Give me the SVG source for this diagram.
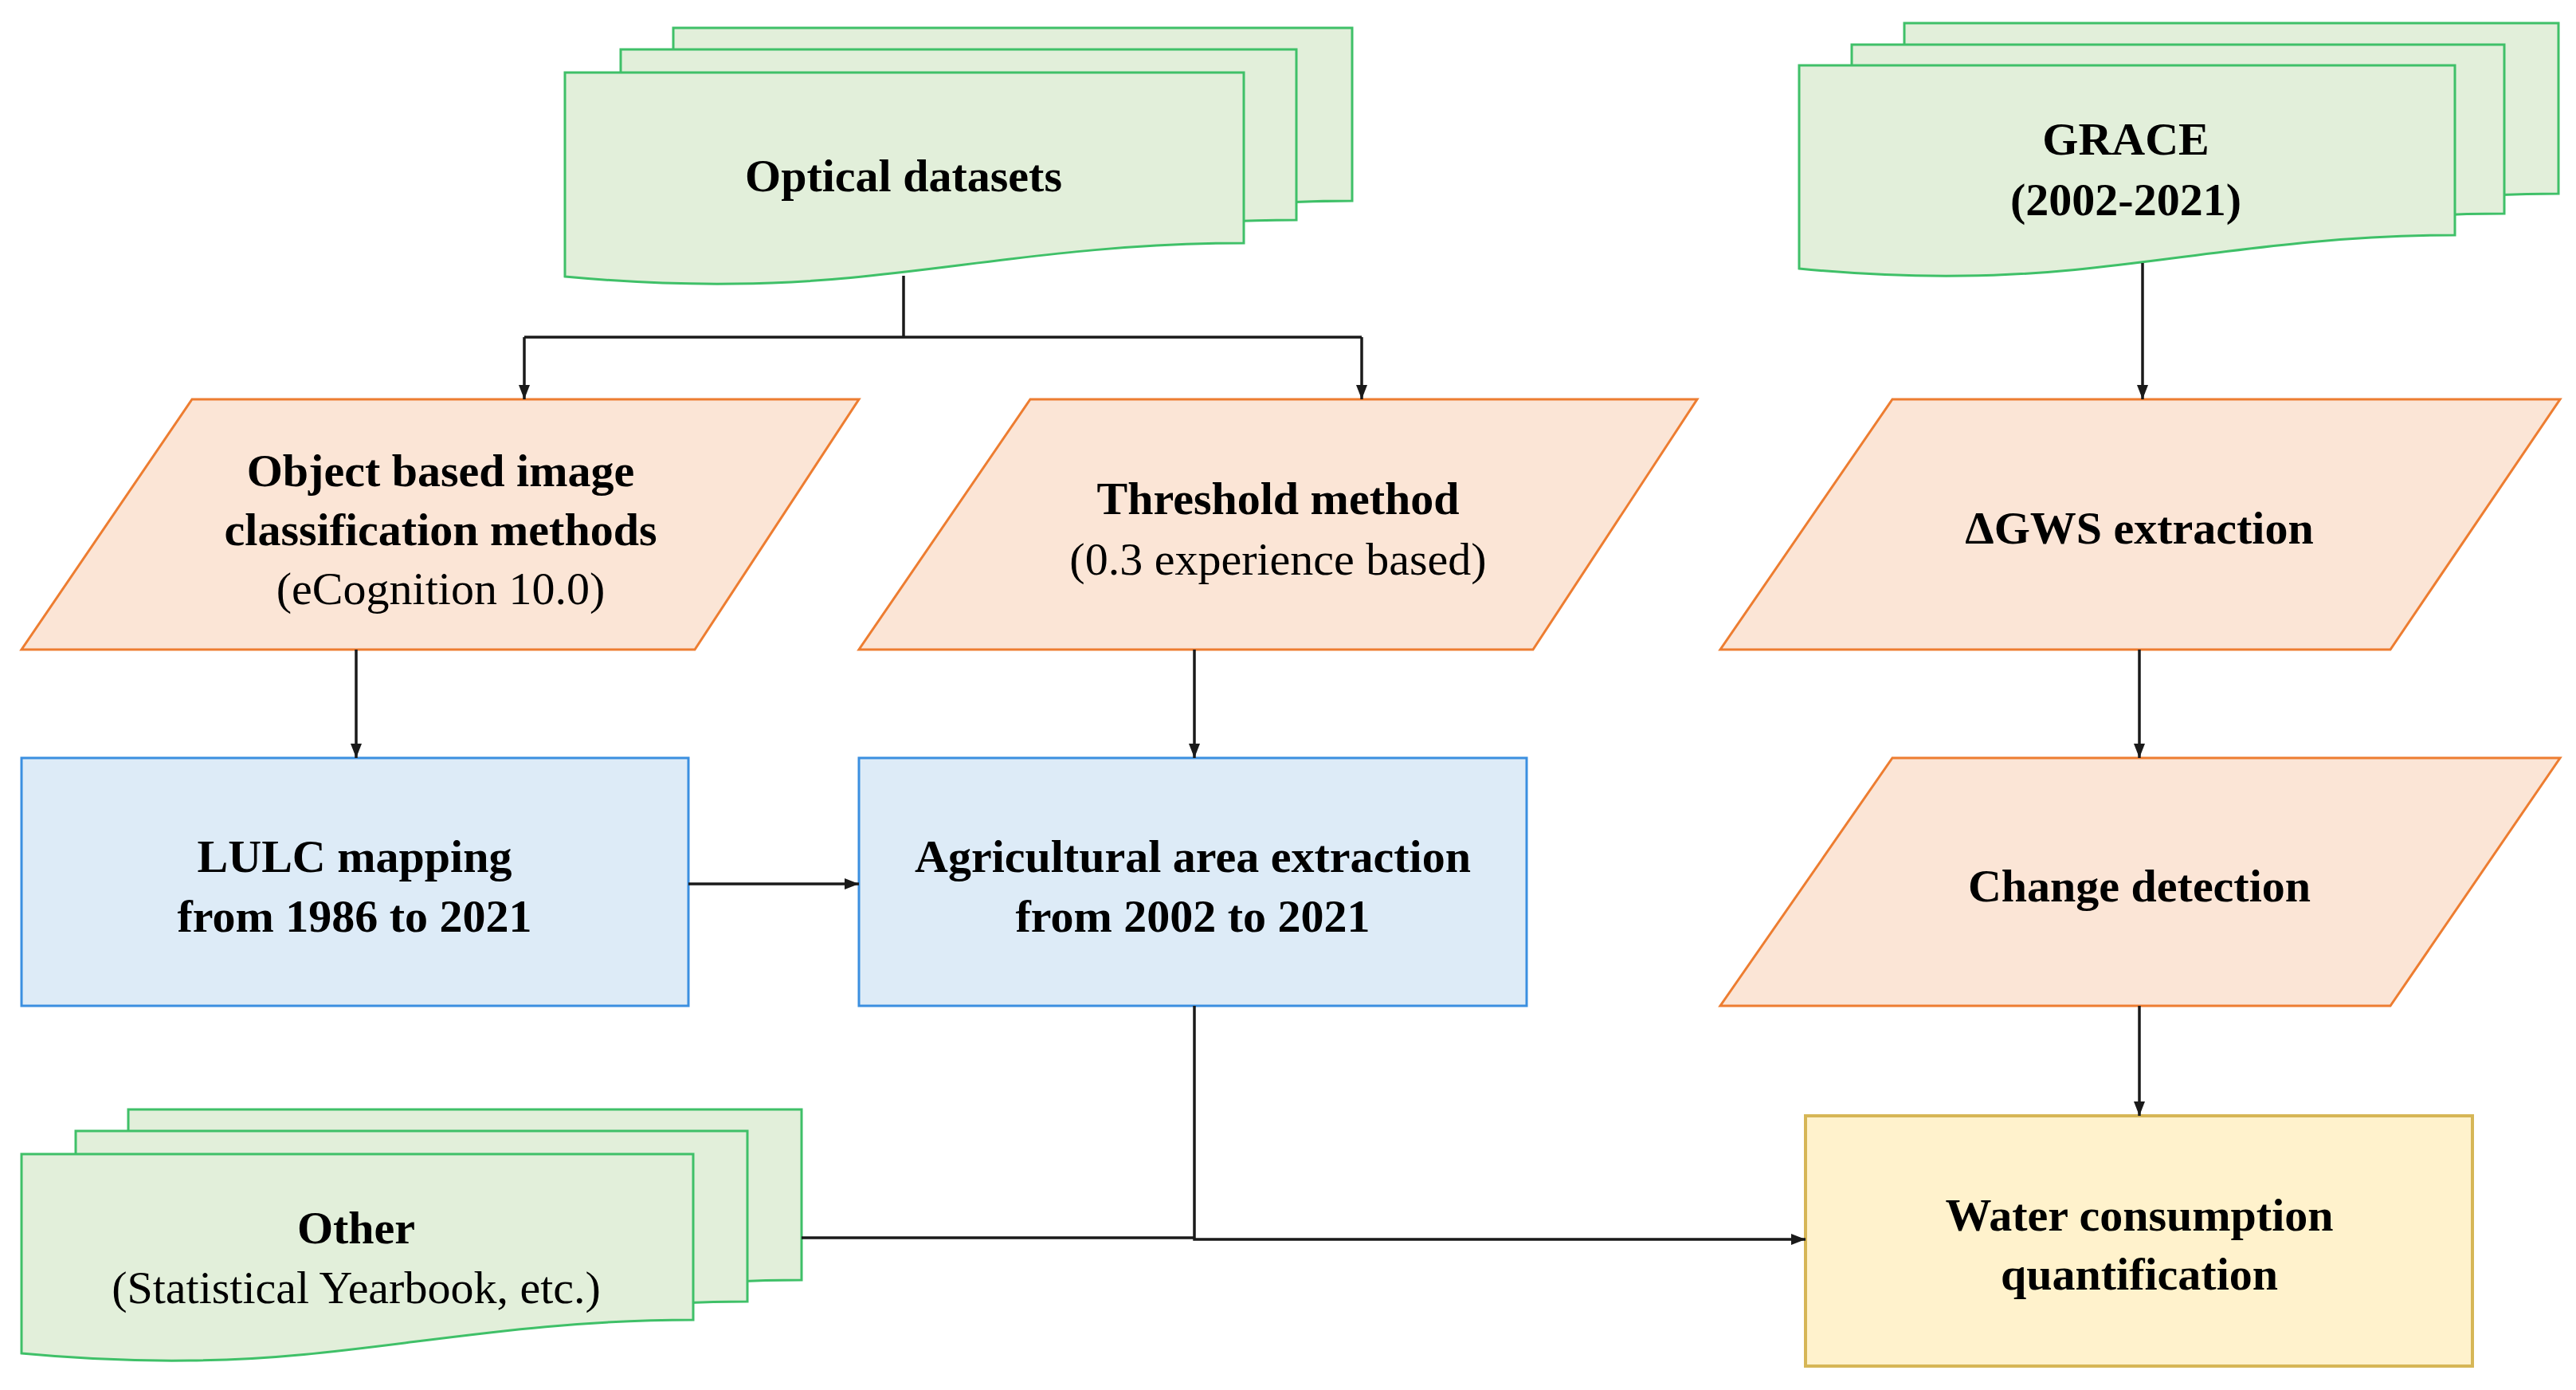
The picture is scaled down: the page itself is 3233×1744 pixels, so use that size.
<svg xmlns="http://www.w3.org/2000/svg" width="3233" height="1744" viewBox="0 0 3233 1744">
<style>
.doc{fill:#E2EFDA;stroke:#3FC068;stroke-width:3}
.par{fill:#FBE5D6;stroke:#ED7D31;stroke-width:3}
.blue{fill:#DDEBF7;stroke:#3B8FE0;stroke-width:3}
.yel{fill:#FFF2CC;stroke:#D6B656;stroke-width:4}
text{font-family:"Liberation Serif","Times New Roman",serif;font-size:58px;text-anchor:middle;fill:#000}
.b{font-weight:bold}
.ln{fill:none;stroke:#1a1a1a;stroke-width:3.5}
</style>
<defs>
<marker id="a" markerWidth="20" markerHeight="14" refX="18" refY="7" orient="auto" markerUnits="userSpaceOnUse">
<path d="M0,0 L18,7 L0,14 z" fill="#1a1a1a"/>
</marker>
</defs>
<g id="optical">
<path class="doc" d="M845,35 h852 v217 c-256,0 -426,50 -639,51 c-85,1 -170,-5 -213,-9 z"/>
<path class="doc" d="M779,62 h848 v214 c-254,0 -424,50 -636,51 c-85,1 -170,-5 -212,-9 z"/>
<path class="doc" d="M709,91 h852 v214 c-256,0 -426,50 -639,51 c-85,1 -170,-5 -213,-9 z"/>
<text class="b" x="1134" y="240">Optical datasets</text>
</g>
<g id="grace">
<path class="doc" d="M2390,29 h821 v214 c-246,0 -410,50 -616,51 c-82,1 -164,-5 -205,-9 z"/>
<path class="doc" d="M2324,56 h819 v212 c-246,0 -410,50 -614,51 c-82,1 -164,-5 -205,-9 z"/>
<path class="doc" d="M2258,82 h823 v213 c-247,0 -412,50 -617,51 c-82,1 -165,-5 -206,-9 z"/>
<text class="b" x="2668" y="194">GRACE</text>
<text class="b" x="2668" y="270">(2002-2021)</text>
</g>
<g id="other">
<path class="doc" d="M161,1392 h845 v214 c-254,0 -423,50 -634,51 c-84,1 -169,-5 -211,-9 z"/>
<path class="doc" d="M95,1419 h843 v214 c-253,0 -422,50 -632,51 c-84,1 -169,-5 -211,-9 z"/>
<path class="doc" d="M27,1448 h843 v208 c-253,0 -422,50 -632,51 c-84,1 -169,-5 -211,-9 z"/>
<text class="b" x="447" y="1560">Other</text>
<text x="447" y="1635">(Statistical Yearbook, etc.)</text>
</g>
<g id="obia">
<path class="par" d="M241,501 H1078 L872,815 H27 z"/>
<text class="b" x="553" y="610">Object based image</text>
<text class="b" x="553" y="684">classification methods</text>
<text x="553" y="758">(eCognition 10.0)</text>
</g>
<g id="threshold">
<path class="par" d="M1293,501 H2130 L1924,815 H1078 z"/>
<text class="b" x="1604" y="645">Threshold method</text>
<text x="1604" y="721">(0.3 experience based)</text>
</g>
<g id="gws">
<path class="par" d="M2375,501 H3213 L3000,815 H2159 z"/>
<text class="b" x="2685" y="682">ΔGWS extraction</text>
</g>
<g id="change">
<path class="par" d="M2375,951 H3213 L3000,1262 H2159 z"/>
<text class="b" x="2685" y="1131">Change detection</text>
</g>
<g id="lulc">
<rect class="blue" x="27" y="951" width="837" height="311"/>
<text class="b" x="445" y="1094">LULC mapping</text>
<text class="b" x="445" y="1169">from 1986 to 2021</text>
</g>
<g id="agri">
<rect class="blue" x="1078" y="951" width="838" height="311"/>
<text class="b" x="1497" y="1094">Agricultural area extraction</text>
<text class="b" x="1497" y="1169">from 2002 to 2021</text>
</g>
<g id="water">
<rect class="yel" x="2266" y="1400" width="837" height="314"/>
<text class="b" x="2685" y="1544">Water consumption</text>
<text class="b" x="2685" y="1618">quantification</text>
</g>
<g id="connectors">
<path class="ln" d="M1134,346 V423"/>
<path class="ln" d="M658,423 H1709"/>
<path class="ln" d="M658,423 V501" marker-end="url(#a)"/>
<path class="ln" d="M1709,423 V501" marker-end="url(#a)"/>
<path class="ln" d="M2689,330 V501" marker-end="url(#a)"/>
<path class="ln" d="M447,815 V951" marker-end="url(#a)"/>
<path class="ln" d="M1499,815 V951" marker-end="url(#a)"/>
<path class="ln" d="M864,1109 H1078" marker-end="url(#a)"/>
<path class="ln" d="M2685,815 V951" marker-end="url(#a)"/>
<path class="ln" d="M2685,1262 V1400" marker-end="url(#a)"/>
<path class="ln" d="M1006,1553 H1499"/>
<path class="ln" d="M1499,1262 V1555 H2266" marker-end="url(#a)"/>
</g>
</svg>
